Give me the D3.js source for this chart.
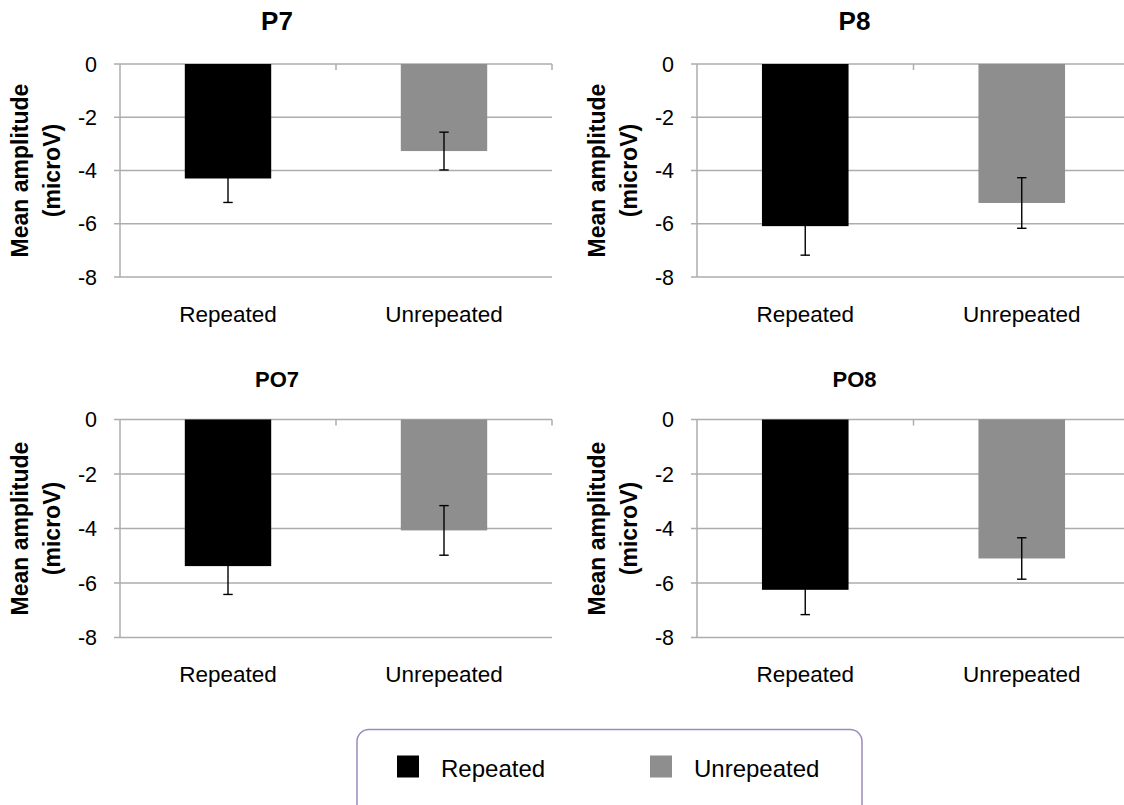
<!DOCTYPE html>
<html lang="en">
  <head>
    <meta charset="UTF-8" />
    <title>Mean amplitude P7 P8 PO7 PO8</title>
    <script src="https://cdn.jsdelivr.net/npm/d3@7/dist/d3.min.js"></script>
    <style>
      html, body { margin: 0; padding: 0; background: #fff; }
      svg { display: block; font-family: "Liberation Sans", Arial, sans-serif; }
    </style>
  </head>
  <body>
    <svg id="chart" width="1124" height="805"></svg>

    <script>
      // data
      const categories = ["Repeated", "Unrepeated"];
      const panelTitles = ["P7", "P8", "PO7", "PO8"];
      const repeatedMeans = [-4.3, -6.09, -5.38, -6.25];
      const unrepeatedMeans = [-3.27, -5.22, -4.07, -5.1];
      const repeatedSE = [0.9, 1.09, 1.04, 0.91];
      const unrepeatedSE = [0.71, 0.95, 0.91, 0.76];
      const yTicks = [0, -2, -4, -6, -8];
      const yLabelLines = ["Mean amplitude", "(microV)"];
      const seriesColors = ["#000000", "#8e8e8e"];

      const svg = d3.select("#chart");
      svg.append("rect").attr("width", 1124).attr("height", 805).attr("fill", "#fff");

      // where each small chart sits
      const panels = [
        { x0: 120, x1: 552, y0: 64, y1: 277, titleY: 30, titleSize: 26, catY: 321.5 },
        { x0: 697, x1: 1130, y0: 64, y1: 277, titleY: 30, titleSize: 26, catY: 321.5 },
        { x0: 120, x1: 552, y0: 419.5, y1: 637.5, titleY: 386.5, titleSize: 22, catY: 681.5 },
        { x0: 697, x1: 1130, y0: 419.5, y1: 637.5, titleY: 386.5, titleSize: 22, catY: 681.5 }
      ];

      const gridColor = "#adadad";

      panels.forEach(function (p, i) {
        const g = svg.append("g");

        const x = d3.scaleBand().domain(categories).range([p.x0, p.x1]);
        const y = d3.scaleLinear().domain([0, -8]).range([p.y0, p.y1]);
        const barW = x.bandwidth() * 0.4;

        // gridlines
        g.selectAll(".grid")
          .data(yTicks)
          .join("line")
          .attr("x1", p.x0 - 6)
          .attr("x2", p.x1)
          .attr("y1", d => y(d))
          .attr("y2", d => y(d))
          .attr("stroke", gridColor)
          .attr("stroke-width", 1.5);

        // value axis line
        g.append("line")
          .attr("x1", p.x0).attr("x2", p.x0)
          .attr("y1", y(0)).attr("y2", y(-8))
          .attr("stroke", gridColor).attr("stroke-width", 1.5);

        // category tick marks on the zero line
        g.selectAll(".ctick")
          .data(categories)
          .join("line")
          .attr("x1", d => x(d) + x.bandwidth())
          .attr("x2", d => x(d) + x.bandwidth())
          .attr("y1", y(0))
          .attr("y2", y(0) + 6)
          .attr("stroke", gridColor)
          .attr("stroke-width", 1.5);

        // tick labels
        g.selectAll(".ylab")
          .data(yTicks)
          .join("text")
          .attr("x", p.x0 - 23)
          .attr("y", d => y(d))
          .attr("dy", "0.36em")
          .attr("text-anchor", "end")
          .attr("font-size", 21.5)
          .attr("fill", "#000")
          .text(d => d === 0 ? "0" : "-" + Math.abs(d));

        const means = [repeatedMeans[i], unrepeatedMeans[i]];
        const ses = [repeatedSE[i], unrepeatedSE[i]];
        const rows = categories.map((c, j) => ({ cat: c, mean: means[j], se: ses[j], color: seriesColors[j] }));

        // bars
        g.selectAll(".bar")
          .data(rows)
          .join("rect")
          .attr("x", d => x(d.cat) + x.bandwidth() / 2 - barW / 2)
          .attr("y", y(0))
          .attr("width", barW)
          .attr("height", d => y(d.mean) - y(0))
          .attr("fill", d => d.color);

        // error bars
        const eb = g.selectAll(".err").data(rows).join("g");
        eb.append("line")
          .attr("x1", d => x(d.cat) + x.bandwidth() / 2)
          .attr("x2", d => x(d.cat) + x.bandwidth() / 2)
          .attr("y1", d => y(d.mean + d.se))
          .attr("y2", d => y(d.mean - d.se))
          .attr("stroke", "#000").attr("stroke-width", 1.4);
        [1, -1].forEach(function (s) {
          eb.append("line")
            .attr("x1", d => x(d.cat) + x.bandwidth() / 2 - 4.7)
            .attr("x2", d => x(d.cat) + x.bandwidth() / 2 + 4.7)
            .attr("y1", d => y(d.mean + s * d.se))
            .attr("y2", d => y(d.mean + s * d.se))
            .attr("stroke", "#000").attr("stroke-width", 1.4);
        });

        // category labels
        g.selectAll(".clab")
          .data(categories)
          .join("text")
          .attr("x", d => x(d) + x.bandwidth() / 2)
          .attr("y", p.catY)
          .attr("text-anchor", "middle")
          .attr("font-size", 22.5)
          .text(d => d);

        // title
        g.append("text")
          .attr("x", (p.x0 + p.x1) / 2 - 59)
          .attr("y", p.titleY)
          .attr("text-anchor", "middle")
          .attr("font-size", p.titleSize)
          .attr("font-weight", "bold")
          .text(panelTitles[i]);

        // y axis title, two lines
        const yc = (p.y0 + p.y1) / 2;
        yLabelLines.forEach(function (line, k) {
          const bx = p.x0 - 92 + k * 32;
          g.append("text")
            .attr("transform", "translate(" + bx + "," + yc + ") rotate(-90)")
            .attr("text-anchor", "middle")
            .attr("font-size", 23)
            .attr("font-weight", "bold")
            .text(line);
        });
      });

      // legend
      const legend = svg.append("g");
      legend.append("rect")
        .attr("x", 357).attr("y", 729.5)
        .attr("width", 505).attr("height", 100)
        .attr("rx", 12).attr("ry", 12)
        .attr("fill", "#fff")
        .attr("stroke", "#9c8bbd")
        .attr("stroke-width", 1.5);

      const legendX = d3.scaleOrdinal().domain(categories).range([397, 650]);
      const li = legend.selectAll(".li")
        .data(categories)
        .join("g")
        .attr("transform", d => "translate(" + legendX(d) + ",0)");
      li.append("rect")
        .attr("x", 0).attr("y", 755.5)
        .attr("width", 22).attr("height", 22)
        .attr("fill", (d, j) => seriesColors[j]);
      li.append("text")
        .attr("x", 44).attr("y", 776.5)
        .attr("font-size", 24)
        .text(d => d);
    </script>
  </body>
</html>
